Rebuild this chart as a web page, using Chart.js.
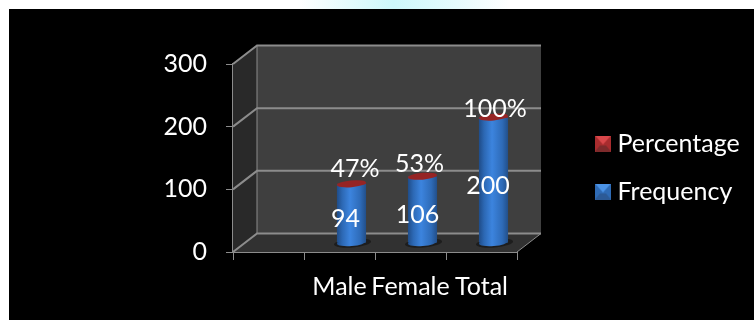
<!DOCTYPE html>
<html>
<head>
<meta charset="utf-8">
<script src="https://cdn.jsdelivr.net/npm/chart.js@4"></script>
<style>
    html, body { margin: 0; width: 754px; height: 320px; overflow: hidden; background: #fff; }
    #top { position: absolute; left: 298px; top: 0; width: 212px; height: 10px;
        background: linear-gradient(90deg, #fff, #cdf8fb 45%, #e6fbfd 75%, #fff); }
    #panel { position: absolute; left: 9px; top: 9px; width: 745px; height: 311px; background: #000; }
    #barChart { position: absolute; left: 0; top: 0; }
</style>
</head>
<body>
<div id="top"></div>
<div id="panel"></div>
<canvas id="barChart" width="754" height="320"></canvas>
<script>
const categories = ["", "Male", "Female", "Total"];
const frequency = [null, 94, 106, 200];
const percentage = [null, 0.47, 0.53, 1];
const yTicks = [0, 100, 200, 300];

const FONT = "Lato";
const GRID = "#8c8c8c";
const BAR_PCT = 0.41;
const dx = 24, dy = -18.5; // depth of the fake 3d box
const barDx = 12, barDy = -9;

// nudges for the value labels, the original has them slightly hand placed
const freqNudge = [null, [-6, 5.5], [-5, 5], [-5.5, 5.5]];
const pctNudge = [null, [3.5, -15], [-3, -12], [1.5, -8.5]];

function swatch(light, mid, dark) {
    const c = document.createElement("canvas");
    c.width = 16; c.height = 16;
    const g = c.getContext("2d");
    const tri = (col, pts) => {
        g.fillStyle = col;
        g.beginPath();
        pts.forEach((p, i) => i ? g.lineTo(p[0], p[1]) : g.moveTo(p[0], p[1]));
        g.closePath();
        g.fill();
    };
    g.fillStyle = mid;
    g.fillRect(0, 0, 16, 16);
    tri(light, [[0, 0], [16, 0], [8, 9]]);
    tri(dark, [[0, 16], [16, 16], [11, 10], [5, 10]]);
    return c;
}
const swatches = {
    Percentage: swatch("#d9474a", "#a82c2e", "#7d2a2b"),
    Frequency: swatch("#4b93e6", "#2f6bb5", "#2c5a96")
};

function ellipse(ctx, x, y, rx, ry, color) {
    ctx.fillStyle = color;
    ctx.beginPath();
    ctx.ellipse(x, y, rx, ry, -0.08, 0, Math.PI * 2);
    ctx.fill();
}

function cylinderGradient(ctx, x0, w) {
    const grad = ctx.createLinearGradient(x0, 0, x0 + w, 0);
    grad.addColorStop(0, "#1f4c88");
    grad.addColorStop(0.18, "#2c68b4");
    grad.addColorStop(0.45, "#3c84de");
    grad.addColorStop(0.8, "#2e6bb8");
    grad.addColorStop(1, "#224f8a");
    return grad;
}

const box3d = {
    id: "box3d",
    afterLayout(chart) {
        // put the legend over at the right without it taking room from the plot
        const l = chart.legend;
        l.left = 578; l.top = 108; l.right = 754; l.bottom = 320;
        l.width = 176; l.height = 212;
    },
    beforeDatasetsDraw(chart) {
        const ctx = chart.ctx;
        const x = chart.scales.x, y = chart.scales.y;
        const l = x.left, r = x.right;
        const t = y.getPixelForValue(300), b = y.getPixelForValue(0);

        const poly = (col, pts) => {
            ctx.fillStyle = col;
            ctx.beginPath();
            pts.forEach((p, i) => i ? ctx.lineTo(p[0], p[1]) : ctx.moveTo(p[0], p[1]));
            ctx.closePath();
            ctx.fill();
        };

        ctx.save();
        poly("#3f3f3f", [[l + dx, t + dy], [r + dx, t + dy], [r + dx, b + dy], [l + dx, b + dy]]);
        poly("#292929", [[l, t], [l + dx, t + dy], [l + dx, b + dy], [l, b]]);
        poly("#313131", [[l, b], [l + dx, b + dy], [r + dx, b + dy], [r, b]]);

        ctx.strokeStyle = GRID;
        ctx.lineWidth = 2;
        yTicks.forEach(v => {
            const py = y.getPixelForValue(v);
            ctx.beginPath();
            ctx.moveTo(l, py);
            ctx.lineTo(l + dx, py + dy);
            ctx.lineTo(r + dx, py + dy);
            ctx.stroke();
        });
        ctx.lineWidth = 1;
        ctx.beginPath();
        ctx.moveTo(l + dx, t + dy);
        ctx.lineTo(l + dx, b + dy);
        ctx.moveTo(r + dx, b + dy);
        ctx.lineTo(r, b);
        ctx.stroke();

        // shadows and round bottoms of the cylinders
        chart.getDatasetMeta(0).data.forEach((bar, i) => {
            if (frequency[i] === null) return;
            const cx = bar.x + barDx;
            ellipse(ctx, cx + 1, bar.base + barDy + 0.5, bar.width / 2 + 4, 4.5, "#1d1d1d");
            ellipse(ctx, cx, bar.base + barDy, bar.width / 2, 3.5, cylinderGradient(ctx, cx - bar.width / 2, bar.width));
        });
        ctx.restore();

        ctx.save();
        ctx.translate(barDx, barDy);
    },
    afterDatasetsDraw(chart) {
        const ctx = chart.ctx;
        ctx.restore();

        ctx.save();
        const freqBars = chart.getDatasetMeta(0).data;
        const pctBars = chart.getDatasetMeta(1).data;
        pctBars.forEach((bar, i) => {
            if (percentage[i] === null) return;
            ellipse(ctx, bar.x + barDx, bar.y + barDy, bar.width / 2, 3.4, "#962424");
        });

        ctx.fillStyle = "#fff";
        ctx.font = "25px " + FONT;
        ctx.textAlign = "center";
        ctx.textBaseline = "middle";
        freqBars.forEach((bar, i) => {
            if (frequency[i] === null) return;
            const midY = (bar.y + bar.base) / 2 + barDy;
            ctx.fillText(String(frequency[i]), bar.x + barDx + freqNudge[i][0], midY + freqNudge[i][1]);
            const top = pctBars[i];
            ctx.fillText(Math.round(percentage[i] * 100) + "%", top.x + barDx + pctNudge[i][0], top.y + barDy + pctNudge[i][1]);
        });
        ctx.restore();
    }
};

function blueGradient(context) {
    const scale = context.chart.scales.x;
    if (!scale || !scale.width) return "#2f6bb5";
    const w = scale.width / categories.length * BAR_PCT;
    // elements are not placed yet when this runs, so go by the scale
    const x0 = scale.getPixelForValue(context.dataIndex) - w / 2;
    return cylinderGradient(context.chart.ctx, x0, w);
}

Chart.defaults.font.family = FONT;
Chart.defaults.color = "#fff";

new Chart(document.getElementById("barChart"), {
    type: "bar",
    data: {
        labels: categories,
        datasets: [
            { label: "Frequency", data: frequency, backgroundColor: blueGradient, categoryPercentage: 1, barPercentage: BAR_PCT },
            { label: "Percentage", data: percentage, backgroundColor: "#962424", categoryPercentage: 1, barPercentage: BAR_PCT }
        ]
    },
    options: {
        responsive: false,
        animation: false,
        devicePixelRatio: 1,
        layout: { padding: { left: 0, top: 64, right: 237, bottom: 0 } },
        plugins: {
            tooltip: { enabled: false },
            legend: {
                position: "chartArea",
                align: "start",
                reverse: true,
                labels: {
                    color: "#fff",
                    font: { size: 25, family: FONT },
                    usePointStyle: true,
                    boxWidth: 4,
                    boxHeight: 16,
                    padding: 23,
                    generateLabels(chart) {
                        return chart.data.datasets.map((d, i) => ({
                            text: d.label,
                            datasetIndex: i,
                            pointStyle: swatches[d.label],
                            fontColor: "#fff",
                            lineWidth: 0
                        }));
                    }
                }
            }
        },
        scales: {
            x: {
                stacked: true,
                grid: { drawOnChartArea: false, color: GRID, tickLength: 8, offset: true },
                border: { color: GRID, width: 2 },
                ticks: { font: { size: 25 }, color: "#fff", padding: 12, maxRotation: 0, autoSkip: false },
                afterFit(scale) { scale.height = 68; }
            },
            y: {
                stacked: true,
                min: 0,
                max: 300,
                afterBuildTicks(scale) { scale.ticks = yTicks.map(v => ({ value: v })); },
                grid: { drawOnChartArea: false, color: GRID, tickLength: 7 },
                border: { color: GRID, width: 2 },
                ticks: { font: { size: 25 }, color: "#fff", padding: 19 },
                afterFit(scale) { scale.width = 233; }
            }
        }
    },
    plugins: [box3d]
});
</script>
</body>
</html>
